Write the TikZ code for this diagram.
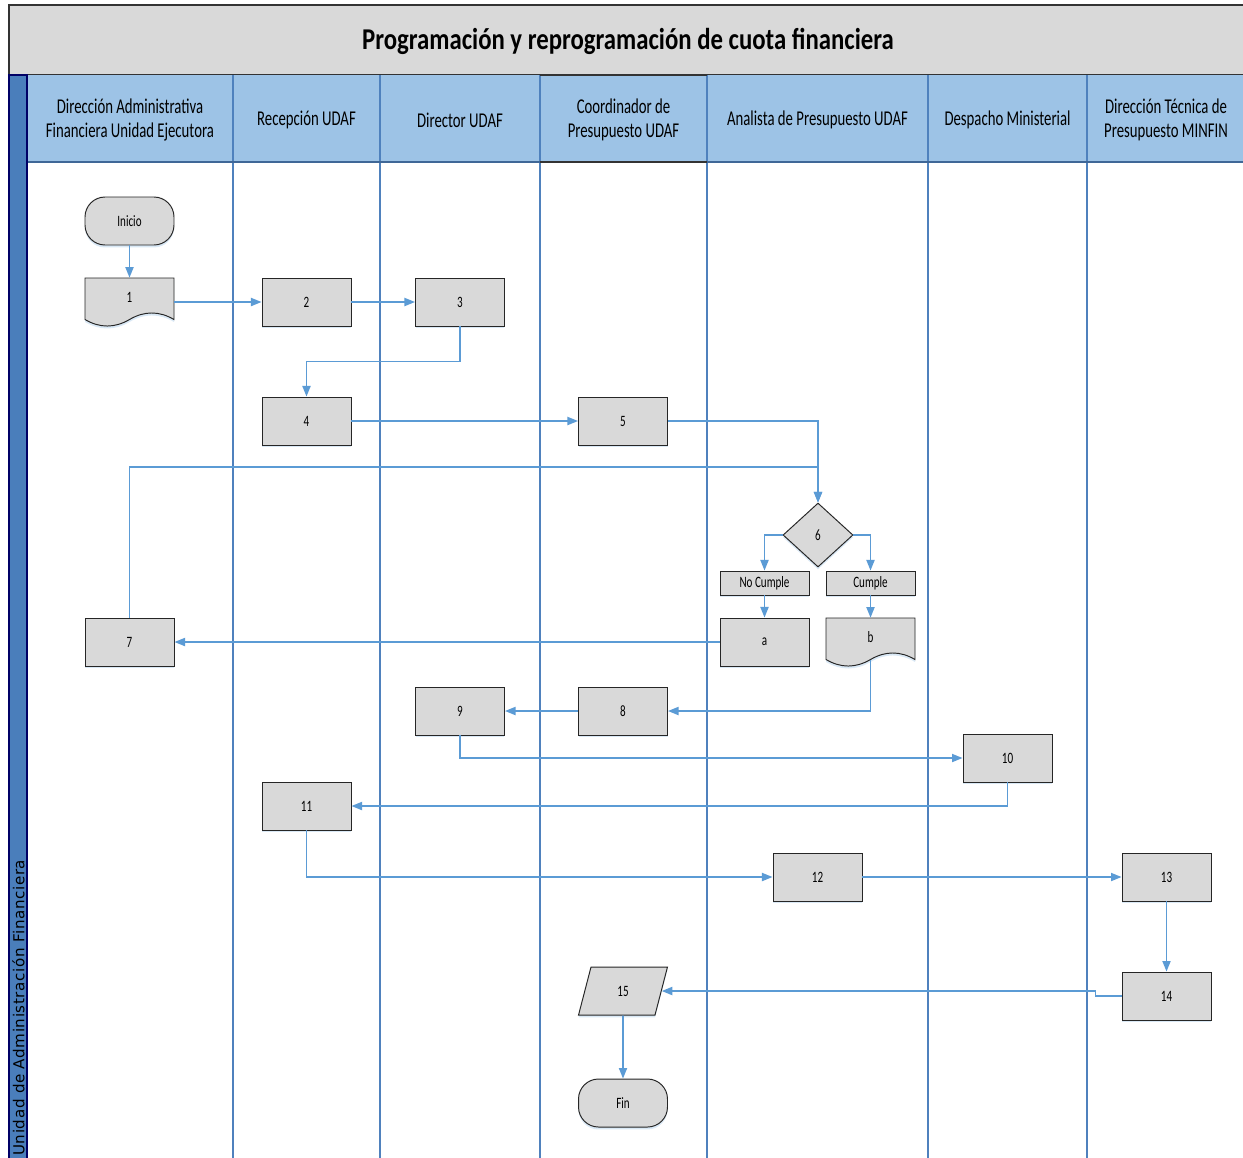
\documentclass[tikz,border=0pt]{standalone}
\usepackage{fontspec}
\setmainfont[FakeStretch=0.70]{Carlito}
\newfontfamily\titlefont[FakeStretch=0.82]{Carlito}
\newfontfamily\sidefont[LetterSpace=4]{DejaVu Sans}
\usetikzlibrary{arrows.meta,shapes.geometric,calc,shadows}
\definecolor{hdrblue}{HTML}{9DC3E6}
\definecolor{sidebarblue}{HTML}{4A7EBB}
\definecolor{laneblue}{HTML}{4F81BD}
\definecolor{flowblue}{HTML}{5B9BD5}
\definecolor{boxgray}{HTML}{D9D9D9}
\definecolor{titlegray}{HTML}{D9D9D9}
\begin{document}
\begin{tikzpicture}[x=0.02cm,y=-0.02cm,
  soft/.style={drop shadow={shadow xshift=0pt,shadow yshift=-1.4pt,fill=flowblue!45,opacity=0.5}},
  shapebase/.style={draw=black!85,fill=boxgray,line width=0.55pt,inner sep=0pt,font=\fontsize{9}{10.8}\selectfont,soft},
  proc/.style={shapebase,rectangle,minimum width=1.78cm,minimum height=0.96cm},
  tag/.style={shapebase,rectangle,minimum width=1.78cm,minimum height=0.48cm},
  term/.style={shapebase,rectangle,rounded corners=0.4cm,minimum width=1.78cm,minimum height=0.96cm},
  decision/.style={shapebase,diamond,aspect=1.1,minimum width=1.4cm,minimum height=1.28cm},
  iobox/.style={shapebase,trapezium,trapezium left angle=78,trapezium right angle=102,trapezium stretches=true,minimum width=1.78cm,minimum height=0.96cm},
  docholder/.style={rectangle,draw=none,inner sep=0pt,minimum width=1.78cm,minimum height=0.96cm,font=\fontsize{9}{10.8}\selectfont},
  docsheet/.style={draw=black!85,fill=boxgray,line width=0.55pt,soft},
  flow/.style={draw=flowblue,line width=0.9pt,-{Triangle[length=6pt,width=4.6pt]}},
  lane/.style={draw=laneblue,line width=0.6pt},
  hdr/.style={align=center,font=\fontsize{12}{13.6}\selectfont,inner sep=0pt},
]
\clip (0,0) rectangle (1243,1157);
\useasboundingbox (0,0) rectangle (1243,1157);
\fill[white] (0,0) rectangle (1243,1157);

% title band
\draw[fill=titlegray,draw=black!80,line width=0.8pt] (9,5) rectangle (1260,75);
\node[font=\titlefont\bfseries\fontsize{17.2}{20}\selectfont,inner sep=0pt] (title) at (628,41) {Programación y reprogramación de cuota financiera};

% lane headers
\fill[hdrblue] (27,75) rectangle (1260,162);
\foreach \lx in {233,380,540,707,928,1087} {\draw[lane] (\lx,75) -- (\lx,1160);}
\draw[laneblue!80!black,line width=0.6pt] (27,162) -- (1260,162);
\draw[black!80,line width=1pt] (540,75) -- (707,75) (540,162) -- (707,162);

% pool sidebar
\draw[fill=sidebarblue,draw=black!60!blue,line width=0.8pt] (9,75) rectangle (27,1165);
\node[rotate=90,anchor=west,inner sep=0pt,font=\sidefont\fontsize{8.6}{9}\selectfont] (pool) at (18.5,1156) {Unidad de Administración Financiera};

\node[hdr] (h1) at (130,120) {Dirección Administrativa\\Financiera Unidad Ejecutora};
\node[hdr] (h2) at (306.5,120) {Recepción UDAF};
\node[hdr] (h3) at (460,120) {Director UDAF};
\node[hdr] (h4) at (623.5,120) {Coordinador de\\Presupuesto UDAF};
\node[hdr] (h5) at (817.5,120) {Analista de Presupuesto UDAF};
\node[hdr] (h6) at (1007.5,120) {Despacho Ministerial};
\node[hdr] (h7) at (1166,120) {Dirección Técnica de\\Presupuesto MINFIN};

% document sheets with a wavy lower edge (drawn beneath their labels)
\foreach \dx/\dy in {129.5/302, 870.5/642} {
  \path[docsheet,shift={(\dx,\dy)}] (-44.5,-24) -- (44.5,-24) -- (44.5,17.5)
    .. controls (29.7,8.8) and (14.8,8.8) .. (0,17.5)
    .. controls (-14.8,26.2) and (-29.7,26.2) .. (-44.5,17.5) -- cycle;
}

% flow nodes
\node[term] (ini) at (129.5,221) {Inicio};
\node[docholder] (n1) at (129.5,302) {\smash{1}};
\node[proc] (n2) at (306.5,302) {2};
\node[proc] (n3) at (460,302) {3};
\node[proc] (n4) at (306.5,421) {4};
\node[proc] (n5) at (623,421) {5};
\node[decision] (n6) at (818,535) {6};
\node[tag] (nc) at (764.5,583) {No Cumple};
\node[tag] (cu) at (870.5,583) {Cumple};
\node[proc] (na) at (764.5,642) {a};
\node[docholder] (nb) at (870.5,642) {\smash{b}};
\coordinate (bout) at ($(nb.center)+(0,17.5)$);
\node[proc] (n7) at (129.5,642) {7};
\node[proc] (n8) at (623,711) {8};
\node[proc] (n9) at (460,711) {9};
\node[proc] (n10) at (1007.5,758) {10};
\node[proc] (n11) at (306.5,806) {11};
\node[proc] (n12) at (817.5,877) {12};
\node[proc] (n13) at (1166.5,877) {13};
\node[proc] (n14) at (1166.5,996) {14};
\node[iobox] (n15) at (623,991) {15};
\node[term] (fin) at (623,1103) {Fin};

% connectors
\draw[flow] (ini) -- (n1);
\draw[flow] (n1.east) -- (n2.west);
\draw[flow] (n2) -- (n3);
\draw[flow] (n3.south) -- ++(0,35) -| (n4.north);
\draw[flow] (n4) -- (n5);
\draw[flow] (n5.east) -| (n6.north);
\draw[flow] (n7.north) -- ++(0,-150.5) -| (n6.north);
\draw[flow] (n6.west) -| (nc.north);
\draw[flow] (n6.east) -| (cu.north);
\draw[flow] (nc) -- (na);
\draw[flow] (cu) -- (nb.north);
\draw[flow] (na.west) -- (n7.east);
\draw[flow] (bout) |- (n8.east);
\draw[flow] (n8) -- (n9);
\draw[flow] (n9.south) |- (n10.west);
\draw[flow] (n10.south) |- (n11.east);
\draw[flow] (n11.south) |- (n12.west);
\draw[flow] (n12) -- (n13);
\draw[flow] (n13) -- (n14);
\draw[flow] (n14.west) -- ++(-26,0) |- (n15.east);
\draw[flow] (n15) -- (fin);
\end{tikzpicture}
\end{document}
